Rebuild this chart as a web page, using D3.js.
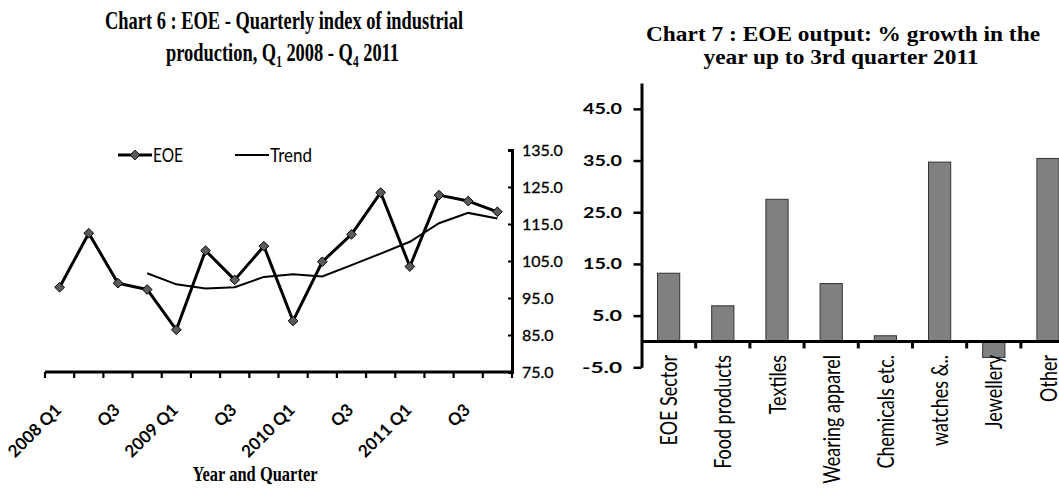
<!DOCTYPE html>
<html>
<head>
<meta charset="utf-8">
<script src="https://cdn.jsdelivr.net/npm/d3@7"></script>
<style>
  body { margin: 0; background: #fff; }
  svg { display: block; }
</style>
</head>
<body>
<svg id="chart" width="1059" height="501"></svg>
<script>
// chart 6 data: quarterly index
var quarters = ['2008 Q1','2008 Q2','2008 Q3','2008 Q4','2009 Q1','2009 Q2','2009 Q3','2009 Q4',
                '2010 Q1','2010 Q2','2010 Q3','2010 Q4','2011 Q1','2011 Q2','2011 Q3','2011 Q4'];
var quarterLabels = ['2008 Q1','','Q3','','2009 Q1','','Q3','','2010 Q1','','Q3','','2011 Q1','','Q3',''];
var eoe   = [97.9,112.5,99.0,97.3,86.4,107.8,99.9,109.0,88.8,104.8,112.2,123.5,103.5,122.8,121.2,118.3];
var trend = [null,null,null,101.7,98.7,97.6,97.9,100.7,101.4,100.8,103.9,107.0,110.2,115.2,118.0,116.5];
var indexTicks = [75,85,95,105,115,125,135];

// chart 7 data: % growth
var sectors = ['EOE Sector','Food products','Textiles','Wearing apparel','Chemicals etc.','watches &..','Jewellery','Other'];
var growth  = [13.2, 6.9, 27.5, 11.2, 1.1, 34.7, -3.1, 35.4];
var growthTicks = [-5,5,15,25,35,45];

var svg = d3.select('#chart');
var serif = '"Liberation Serif", "Times New Roman", serif';
var sans = 'Lato, "Open Sans", sans-serif';
var fmt = function(d) { return d3.format('.1f')(d).replace('\u2212', '-'); };

// ---------- Chart 6 ----------
var g6 = svg.append('g');

g6.append('text').attr('x', 284).attr('y', 29).attr('text-anchor', 'middle')
  .style('font-family', serif).style('font-weight', 'bold').style('font-size', '26px')
  .attr('textLength', 358).attr('lengthAdjust', 'spacingAndGlyphs')
  .text('Chart 6 : EOE - Quarterly index of industrial');

var t2 = g6.append('text').attr('x', 282.5).attr('y', 61).attr('text-anchor', 'middle')
  .style('font-family', serif).style('font-weight', 'bold').style('font-size', '26px')
  .attr('textLength', 233).attr('lengthAdjust', 'spacingAndGlyphs');
t2.append('tspan').text('production, Q');
t2.append('tspan').attr('dy', 6).style('font-size', '16px').text('1');
t2.append('tspan').attr('dy', -6).text(' 2008 - Q');
t2.append('tspan').attr('dy', 6).style('font-size', '16px').text('4');
t2.append('tspan').attr('dy', -6).text(' 2011');

var x6 = d3.scaleBand().domain(quarters).range([45, 512]).padding(0);
var y6 = d3.scaleLinear().domain([75, 135]).range([372, 150]);
var cx = function(i) { return x6(quarters[i]) + x6.bandwidth() / 2; };

// y axis on the right
var yAxis6 = g6.append('g').attr('transform', 'translate(512,0)')
  .call(d3.axisLeft(y6).tickValues(indexTicks).tickSize(4).tickFormat(''));
yAxis6.select('.domain').attr('stroke', '#000').attr('stroke-width', 3);
yAxis6.selectAll('.tick line').attr('stroke', '#000').attr('stroke-width', 2);

g6.selectAll('.ylab').data(indexTicks).enter().append('text')
  .attr('x', 522).attr('y', function(d) { return y6(d); }).attr('dy', '0.36em')
  .style('font-family', sans).style('font-size', '16px').style('fill', '#000')
  .style('stroke', '#000').style('stroke-width', 0.3)
  .text(fmt);

// x axis
g6.append('line').attr('x1', 45).attr('x2', 513).attr('y1', 372).attr('y2', 372)
  .attr('stroke', '#000').attr('stroke-width', 3);
var bounds6 = quarters.map(function(q) { return x6(q); }).concat([x6.range()[1]]);
g6.selectAll('.xtick').data(bounds6).enter().append('line')
  .attr('x1', function(d) { return d; }).attr('x2', function(d) { return d; })
  .attr('y1', 372).attr('y2', 378).attr('stroke', '#000').attr('stroke-width', 2.2);

quarterLabels.forEach(function(lab, i) {
  if (!lab) return;
  g6.append('text')
    .attr('transform', 'translate(' + (cx(i) + 3) + ',411) rotate(-45)')
    .attr('text-anchor', 'end')
    .style('font-family', sans).style('font-weight', 'bold').style('font-size', '17px')
    .text(lab);
});

g6.append('text').attr('x', 255).attr('y', 481).attr('text-anchor', 'middle')
  .style('font-family', serif).style('font-weight', 'bold').style('font-size', '22px')
  .attr('textLength', 125).attr('lengthAdjust', 'spacingAndGlyphs')
  .text('Year and Quarter');

// lines
var lineGen = d3.line()
  .defined(function(d) { return d != null; })
  .x(function(d, i) { return cx(i); })
  .y(function(d) { return y6(d); });

g6.append('path').datum(trend).attr('d', lineGen)
  .attr('fill', 'none').attr('stroke', '#000').attr('stroke-width', 2);
g6.append('path').datum(eoe).attr('d', lineGen)
  .attr('fill', 'none').attr('stroke', '#000').attr('stroke-width', 3).attr('stroke-linejoin', 'round');

var diamond = d3.symbol().type(d3.symbolDiamond2).size(60);
g6.selectAll('.pt').data(eoe).enter().append('path')
  .attr('transform', function(d, i) { return 'translate(' + cx(i) + ',' + y6(d) + ')'; })
  .attr('d', diamond).attr('fill', '#5a5a5a').attr('stroke', '#000').attr('stroke-width', 1);

// legend
g6.append('line').attr('x1', 118).attr('x2', 152).attr('y1', 155).attr('y2', 155)
  .attr('stroke', '#000').attr('stroke-width', 3);
g6.append('path').attr('transform', 'translate(135,155)').attr('d', diamond)
  .attr('fill', '#5a5a5a').attr('stroke', '#000').attr('stroke-width', 1);
g6.append('text').attr('x', 153).attr('y', 162)
  .style('font-family', sans).style('font-size', '20px')
  .attr('textLength', 30).attr('lengthAdjust', 'spacingAndGlyphs').text('EOE');
g6.append('line').attr('x1', 235).attr('x2', 269).attr('y1', 155).attr('y2', 155)
  .attr('stroke', '#000').attr('stroke-width', 2);
g6.append('text').attr('x', 270).attr('y', 162)
  .style('font-family', sans).style('font-size', '20px')
  .attr('textLength', 42).attr('lengthAdjust', 'spacingAndGlyphs').text('Trend');

// ---------- Chart 7 ----------
var g7 = svg.append('g');

g7.append('text').attr('x', 843).attr('y', 41).attr('text-anchor', 'middle')
  .style('font-family', serif).style('font-weight', 'bold').style('font-size', '20px')
  .attr('textLength', 394).attr('lengthAdjust', 'spacingAndGlyphs')
  .text('Chart 7 : EOE output: % growth in the');
g7.append('text').attr('x', 841).attr('y', 63.5).attr('text-anchor', 'middle')
  .style('font-family', serif).style('font-weight', 'bold').style('font-size', '20px')
  .attr('textLength', 275).attr('lengthAdjust', 'spacingAndGlyphs')
  .text('year up to 3rd quarter 2011');

var x7 = d3.scaleBand().domain(sectors).range([641.5, 641.5 + 8 * 54.2])
  .paddingInner(0.59).paddingOuter(0.295);
var x7b = d3.scaleBand().domain(sectors).range(x7.range()).padding(0);
var y7 = d3.scaleLinear().domain([-5, 50]).range([367.3, 83]);

g7.selectAll('.bar').data(growth).enter().append('rect')
  .attr('x', function(d, i) { return x7(sectors[i]); })
  .attr('width', x7.bandwidth())
  .attr('y', function(d) { return y7(Math.max(0, d)); })
  .attr('height', function(d) { return Math.abs(y7(d) - y7(0)); })
  .attr('fill', '#808080').attr('stroke', '#333').attr('stroke-width', 1);

var yAxis7 = g7.append('g').attr('transform', 'translate(641.5,0)')
  .call(d3.axisLeft(y7).tickValues(growthTicks).tickSize(8).tickSizeOuter(0).tickFormat(''));
yAxis7.select('.domain').attr('stroke', '#000').attr('stroke-width', 3);
yAxis7.selectAll('.tick line').attr('stroke', '#000').attr('stroke-width', 2.5);

g7.selectAll('.ylab').data(growthTicks).enter().append('text')
  .attr('x', 622).attr('y', function(d) { return y7(d); }).attr('dy', '0.36em')
  .attr('text-anchor', 'end')
  .style('font-family', sans).style('font-weight', 'bold').style('font-size', '15px')
  .attr('textLength', function(d) { return d < 0 ? 40 : (d >= 10 ? 39 : 30); })
  .attr('lengthAdjust', 'spacingAndGlyphs')
  .text(fmt);

// zero line with category boundary ticks
g7.append('line').attr('x1', 641.5).attr('x2', 1059).attr('y1', y7(0)).attr('y2', y7(0))
  .attr('stroke', '#000').attr('stroke-width', 3);
g7.selectAll('.xtick').data(sectors.slice(1)).enter().append('line')
  .attr('x1', function(d) { return x7b(d); }).attr('x2', function(d) { return x7b(d); })
  .attr('y1', y7(0)).attr('y2', y7(0) + 7).attr('stroke', '#000').attr('stroke-width', 3);

g7.selectAll('.xlab').data(sectors).enter().append('text')
  .attr('transform', function(d) {
    return 'translate(' + (x7b(d) + x7b.bandwidth() / 2 + 8.5) + ',355) scale(1.3,1) rotate(-90)';
  })
  .attr('text-anchor', 'end')
  .style('font-family', sans).style('font-size', '18px').style('fill', '#000')
  .text(function(d) { return d; });
</script>
</body>
</html>
